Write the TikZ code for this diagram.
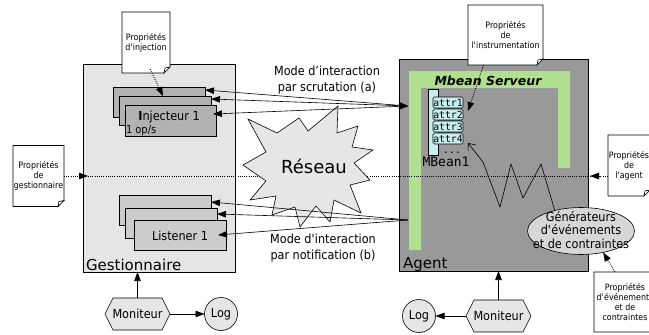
\documentclass[tikz,border=0pt]{standalone}
\usepackage{fontspec}
\setmainfont{DejaVu Sans}
\newfontfamily\condf{DejaVu Sans}[FakeStretch=0.9]
\newfontfamily\monof{DejaVu Sans Mono}
\usetikzlibrary{arrows.meta,shapes.geometric,calc}
\definecolor{gestgray}{RGB}{229,229,229}
\definecolor{injgray}{RGB}{178,178,178}
\definecolor{lisgray}{RGB}{204,204,204}
\definecolor{agentgray}{RGB}{153,153,153}
\definecolor{mgreen}{RGB}{176,224,143}
\definecolor{mcyan}{RGB}{200,238,242}
\definecolor{lightfill}{RGB}{230,230,230}
\definecolor{genfill}{RGB}{215,215,215}
\tikzset{
 boxst/.style={draw,rectangle},
 notetext/.style={align=center,font=\condf\fontsize{8.8}{10}\selectfont},
 lbl/.style={font=\condf\fontsize{12.5}{16}\selectfont,align=center},
 big/.style={font=\fontsize{15}{15}\selectfont},
 dotline/.style={dash pattern=on 1pt off 1.2pt,line width=0.8pt},
 attrbox/.style={draw,fill=mcyan,rounded corners=1.5pt,minimum width=30,minimum height=11,font=\monof\fontsize{9.8}{10}\selectfont},
 logst/.style={circle,draw,fill=lightfill,minimum size=33,font=\condf\fontsize{12.5}{13}\selectfont},
}
\newcommand\notebox[6]{%
 \draw[fill=white] ({#2-#4/2},{#3-#5/2}) -- ({#2+#4/2},{#3-#5/2}) -- ({#2+#4/2},{#3+#5/2-6}) -- ({#2+#4/2-6},{#3+#5/2}) -- ({#2-#4/2},{#3+#5/2}) -- cycle;
 \draw[fill=white] ({#2+#4/2},{#3+#5/2-6}) -- ({#2+#4/2-6},{#3+#5/2}) -- ({#2+#4/2-5},{#3+#5/2-5}) -- cycle;
 \node[notetext,minimum width=#4,minimum height=#5] (#1) at (#2,#3) {#6};}
\newcommand\hexnode[3]{%
 \draw[fill=lightfill] ({#2-32.5},#3) -- ({#2-24.5},{#3-16}) -- ({#2+24.5},{#3-16}) -- ({#2+32.5},#3) -- ({#2+24.5},{#3+16}) -- ({#2-24.5},{#3+16}) -- cycle;
 \node[minimum width=65,minimum height=32,font=\condf\fontsize{12.5}{13}\selectfont] (#1) at (#2,#3) {Moniteur};}
\begin{document}
\begin{tikzpicture}[x=1pt,y=-1pt,line width=0.6pt,>={Triangle[length=9pt,width=6.5pt]},
 every node/.append style={inner sep=0pt,outer sep=0pt}]
\useasboundingbox (0,0) rectangle (649,335);
% Gestionnaire
\node[boxst,fill=gestgray,minimum width=152,minimum height=208] (gest) at (159,168) {};
\node[big,anchor=base west] (gestl) at (86,270) {Gestionnaire};
\node[boxst,fill=injgray,minimum width=92,minimum height=30] (inj1) at (159,102) {};
\node[boxst,fill=injgray,minimum width=92,minimum height=29] (inj2) at (165,110.5) {};
\node[boxst,fill=injgray,minimum width=91,minimum height=31] (inj3) at (170.5,120.5) {};
\node[lbl] (injt) at (169,117) {\textbf{I}njecteur 1};
\node[font=\condf\fontsize{11}{11}\selectfont,anchor=base west] (ops) at (126,133.5) {1 op/s};
\node[boxst,fill=lisgray,minimum width=92,minimum height=30] (lis1) at (165,210) {};
\node[boxst,fill=lisgray,minimum width=92,minimum height=30] (lis2) at (171,223) {};
\node[boxst,fill=lisgray,minimum width=92,minimum height=30] (lis3) at (180,235) {};
\node[lbl] (list) at (180,236) {Listener 1};
\hexnode{mon1}{137.5}{314}
\node[logst] (log1) at (221,314) {Log};
\draw[->] (mon1.north) -- (mon1.north |- gest.south);
\draw[->] (mon1.east) -- (log1.west);
% Agent
\node[boxst,fill=agentgray,minimum width=189,minimum height=212] (agent) at (493.5,165) {};
\node[big,anchor=base west] (agentl) at (403,268.5) {Agent};
\fill[mgreen] (409,71) -- (570,71) -- (570,168) -- (558,168) -- (558,88) -- (421,88) -- (421,250) -- (409,250) -- cycle;
\node[font=\bfseries\itshape\fontsize{12.5}{13}\selectfont] (msrv) at (488,81) {Mbean Serveur};
\node[boxst,fill=mcyan,minimum width=10,minimum height=66] (mbar) at (433,122) {};
\node[attrbox] (a1) at (448,102.5) {attr1};
\node[attrbox] (a2) at (448,114.5) {attr2};
\node[attrbox] (a3) at (448,126.5) {attr3};
\node[attrbox] (a4) at (448,138.5) {attr4};
\node[font=\monof\fontsize{10}{10}\selectfont,anchor=base] (mdots) at (452,153) {...};
\node[font=\monof\fontsize{13}{13}\selectfont] (mbl) at (446,162) {MBean1};
\node[ellipse,draw,fill=genfill,minimum width=107,minimum height=47] (gen) at (581,231) {};
\node[font=\condf\fontsize{12.5}{13.5}\selectfont,align=center] (gent) at (581,230) {Générateurs\\d\textquotesingle événements\\et de contraintes};
\coordinate (ztip) at (468,143);
\draw[-{Straight Barb[length=6pt,width=10pt]}] (gen.142) -- (541,164) -- (523,198) -- (511,164) -- (500,207) -- (483,162) -- (ztip);
\hexnode{mon2}{498.5}{316}
\node[logst] (log2) at (419,316) {Log};
\draw[->] (mon2.north) -- (mon2.north |- agent.south);
\draw[->] (mon2.west) -- (log2.east);
% notes
\notebox{ninj}{146}{42.5}{48}{61}{Propriétés\\d\textquotesingle injection}
\notebox{ninstr}{505.5}{35}{75}{60}{Propriétés\\de\\l\textquotesingle instrumentation}
\notebox{ngest}{38.5}{176}{51}{61}{Propriétés\\de\\gestionnaire}
\notebox{nagent}{629}{165.5}{42}{61}{Propriétés\\de\\l\textquotesingle agent}
\notebox{nev}{625}{302}{62}{60}{Propriétés\\d\textquotesingle événements\\et de\\contraintes}
\draw[dotline,->] ([xshift=4pt,yshift=4pt]ninj.south) -- ([xshift=-2pt]inj2.north);
\coordinate (itip) at (468,111);
\draw[dotline,->] ([xshift=-22pt]ninstr.south) -- (itip);
\draw[dotline,->] ([xshift=-10pt]nev.north) -- (gen.-44);
\coordinate (dl) at (88,176);
\coordinate (dr) at (590,176);
\draw[dotline,->] (ngest.east) -- (dl);
\draw[dotline] (dl) -- (dr);
\draw[dotline,->] (nagent.west |- dr) -- (dr);
% Reseau
\draw[fill=lightfill] (248,119) -- (277,133) -- (299,118) -- (308,131) -- (338,106) -- (337,133) -- (358,126) -- (352,147) -- (373,150) -- (354,163) -- (370,180) -- (350,185) -- (361,213) -- (334,200) -- (330,222) -- (316,206) -- (300,227) -- (295,207) -- (272,215) -- (276,196) -- (250,200) -- (266,181) -- (243,165) -- (266,152) -- cycle;
\node[font=\fontsize{18}{18}\selectfont] (reseau) at (314,166) {Réseau};
% interactions
\coordinate (scr) at (408,106);
\draw[<->] ([yshift=-3pt]inj1.north east) -- (scr);
\draw[<->] ([yshift=-3pt]inj2.north east) -- (scr);
\draw[<->] ([xshift=-3pt,yshift=-9pt]inj3.north east) -- (scr);
\coordinate (ntf) at (408,220);
\draw[->] (ntf) -- ([yshift=-7pt]lis1.north east);
\draw[->] (ntf) -- ([yshift=-6pt]lis2.north east);
\draw[->] (ntf) -- ([xshift=-8pt]lis3.east);
\node[lbl] (lscr) at (327,80) {Mode d’interaction\\par scrutation (a)};
\node[lbl] (lntf) at (323,248) {Mode d\textquotesingle interaction\\par notification (b)};
\end{tikzpicture}
\end{document}
